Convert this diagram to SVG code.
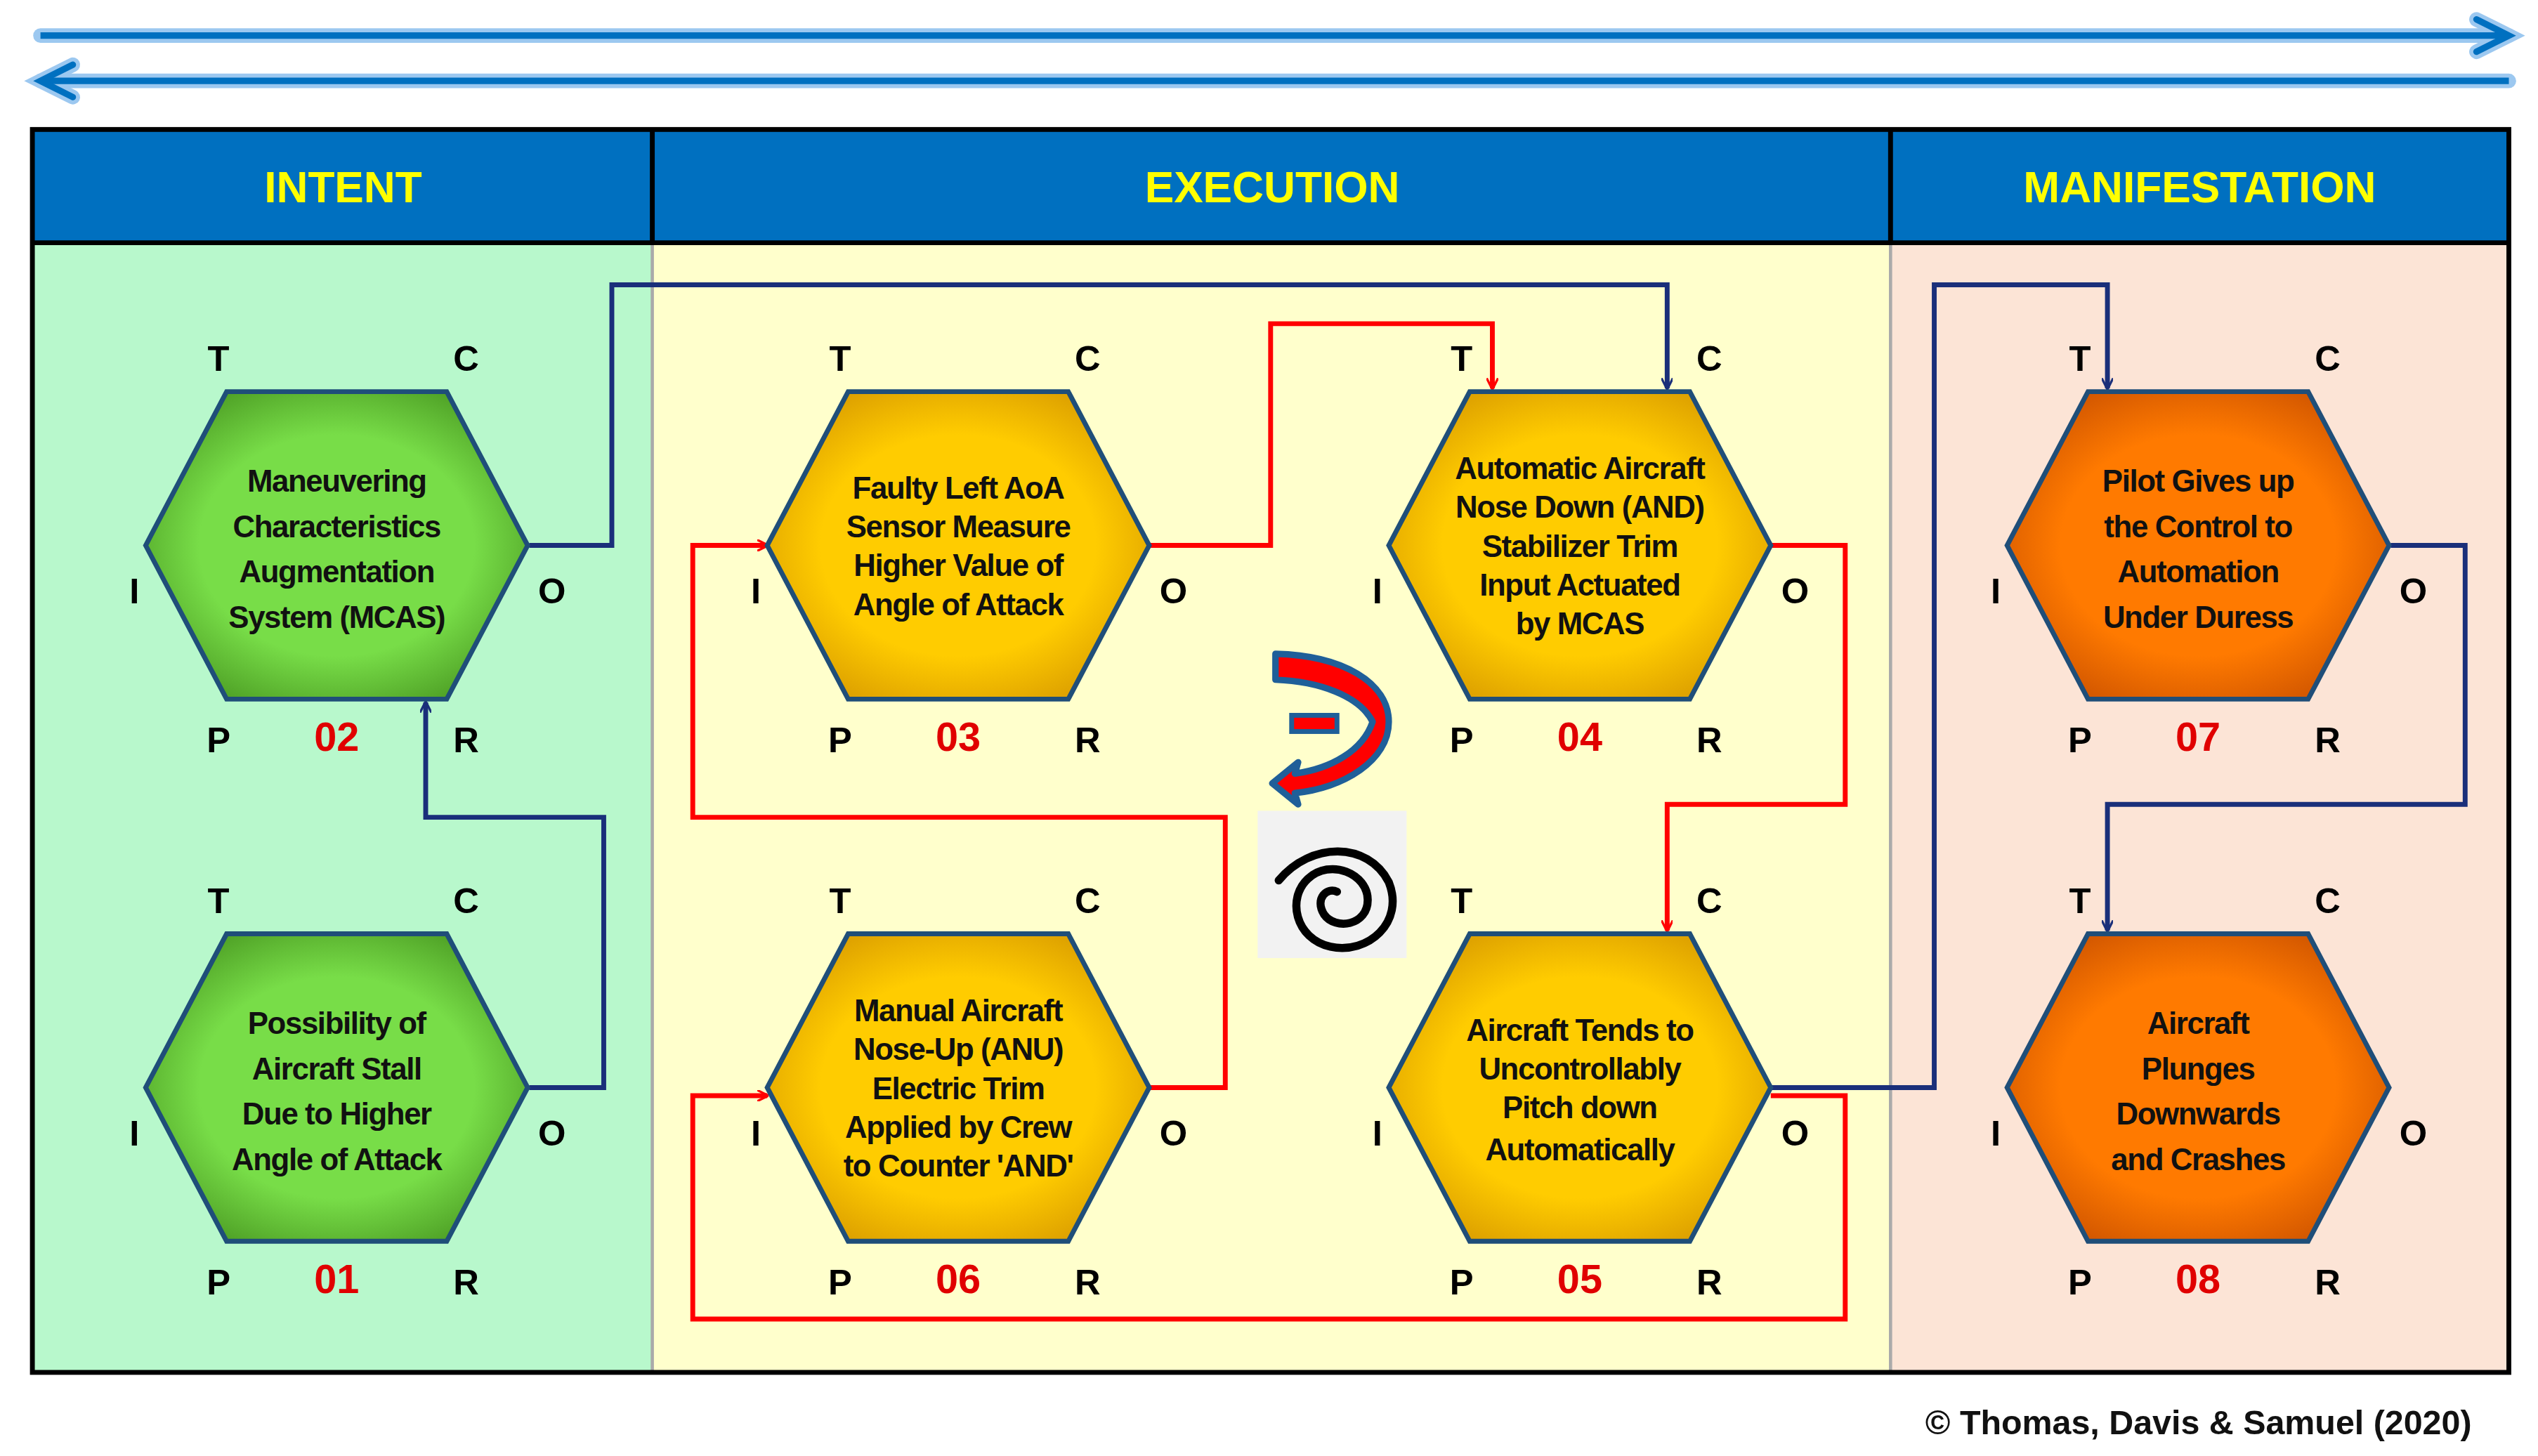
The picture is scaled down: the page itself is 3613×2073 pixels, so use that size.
<svg xmlns="http://www.w3.org/2000/svg" width="3613" height="2073" viewBox="0 0 3613 2073">
<defs>
<style>
.lb{font-family:"Liberation Sans",Arial,sans-serif;font-weight:bold;font-size:22px;fill:#000;text-anchor:middle}
.num{font-family:"Liberation Sans",Arial,sans-serif;font-weight:bold;font-size:25px;fill:#e00000;text-anchor:middle}
.nt{font-family:"Liberation Sans",Arial,sans-serif;font-weight:bold;font-size:19px;fill:#111;text-anchor:middle;letter-spacing:-0.6px}
.hd{font-family:"Liberation Sans",Arial,sans-serif;font-weight:bold;font-size:27px;fill:#ffff00;text-anchor:middle}
.hex{stroke:#1f4e79;stroke-width:3}
.bl{fill:none;stroke:#1a2f7a;stroke-width:3}
.rd{fill:none;stroke:#ff0000;stroke-width:3}
</style>
<radialGradient id="gG" cx="50%" cy="50%" r="60%"><stop offset="0.6" stop-color="#78dd48"/><stop offset="1" stop-color="#4a9a22"/></radialGradient>
<radialGradient id="gY" cx="50%" cy="50%" r="60%"><stop offset="0.6" stop-color="#ffcc00"/><stop offset="1" stop-color="#d89a00"/></radialGradient>
<radialGradient id="gO" cx="50%" cy="50%" r="60%"><stop offset="0.6" stop-color="#ff7a00"/><stop offset="1" stop-color="#cc5200"/></radialGradient>
<marker id="ab" viewBox="0 0 10 10" refX="9" refY="5" markerWidth="7" markerHeight="7" orient="auto" markerUnits="userSpaceOnUse"><path d="M0,0 L10,5 L0,10" fill="none" stroke="#1a2f7a" stroke-width="2"/></marker>
<marker id="ar" viewBox="0 0 10 10" refX="9" refY="5" markerWidth="7" markerHeight="7" orient="auto" markerUnits="userSpaceOnUse"><path d="M0,0 L10,5 L0,10" fill="none" stroke="#ff0000" stroke-width="2"/></marker>
<path id="hx" d="M-118,0 L-68,-95 L68,-95 L118,0 L68,95 L-68,95 Z"/>
</defs>
<rect width="3613" height="2073" fill="#fff"/>
<g transform="scale(2.3042)">
<g id="timeline">
<line x1="25" y1="22" x2="1550" y2="22" stroke="#9cc8f0" stroke-width="9" stroke-linecap="round"/>
<line x1="25" y1="50" x2="1550" y2="50" stroke="#9cc8f0" stroke-width="9" stroke-linecap="round"/>
<path d="M1530,12 L1550,22 L1530,32" fill="none" stroke="#9cc8f0" stroke-width="9" stroke-linecap="round"/>
<path d="M45,40 L25,50 L45,60" fill="none" stroke="#9cc8f0" stroke-width="9" stroke-linecap="round"/>
<line x1="25" y1="22" x2="1550" y2="22" stroke="#0070c0" stroke-width="4"/>
<line x1="25" y1="50" x2="1550" y2="50" stroke="#0070c0" stroke-width="4"/>
<path d="M1530,12 L1550,22 L1530,32" fill="none" stroke="#0070c0" stroke-width="4" stroke-linecap="round"/>
<path d="M45,40 L25,50 L45,60" fill="none" stroke="#0070c0" stroke-width="4" stroke-linecap="round"/>
</g>
<g id="frame">
<rect x="20" y="150" width="383" height="698" fill="#b8f8cc"/>
<rect x="403" y="150" width="765" height="698" fill="#ffffcc"/>
<rect x="1168" y="150" width="382" height="698" fill="#fce4d6"/>
<rect x="20" y="80" width="1530" height="70" fill="#0070c0"/>
<line x1="403" y1="150" x2="403" y2="848" stroke="#aaa" stroke-width="2"/>
<line x1="1168" y1="150" x2="1168" y2="848" stroke="#aaa" stroke-width="2"/>
<line x1="403" y1="80" x2="403" y2="150" stroke="#000" stroke-width="3"/>
<line x1="1168" y1="80" x2="1168" y2="150" stroke="#000" stroke-width="3"/>
<line x1="20" y1="150" x2="1550" y2="150" stroke="#000" stroke-width="3"/>
<rect x="20" y="80" width="1530" height="768" fill="none" stroke="#000" stroke-width="3"/>
<text class="hd" x="212" y="125">INTENT</text>
<text class="hd" x="786" y="125">EXECUTION</text>
<text class="hd" x="1359" y="125">MANIFESTATION</text>
</g>
<g id="connectors">
<path class="bl" d="M327,672 H373 V505 H263 V434" marker-end="url(#ab)"/>
<path class="bl" d="M327,337 H378 V176 H1030 V240" marker-end="url(#ab)"/>
<path class="rd" d="M710,337 H785 V200 H922 V240" marker-end="url(#ar)"/>
<path class="rd" d="M1094,337 H1140 V497 H1030 V575" marker-end="url(#ar)"/>
<path class="rd" d="M710,672 H757 V505 H428 V337 H474" marker-end="url(#ar)"/>
<path class="rd" d="M1094,677 H1140 V815 H428 V677 H474" marker-end="url(#ar)"/>
<path class="bl" d="M1094,672 H1195 V176 H1302 V240" marker-end="url(#ab)"/>
<path class="bl" d="M1477,337 H1523 V497 H1302 V575" marker-end="url(#ab)"/>
</g>
<g id="n02" transform="translate(208,337)">
<use href="#hx" class="hex" fill="url(#gG)"/>
<text class="nt" y="-33">Maneuvering</text><text class="nt" y="-5">Characteristics</text><text class="nt" y="23">Augmentation</text><text class="nt" y="51">System (MCAS)</text>
<text class="lb" x="-73" y="-108">T</text><text class="lb" x="80" y="-108">C</text><text class="lb" x="-125" y="36">I</text><text class="lb" x="133" y="36">O</text><text class="lb" x="-73" y="128">P</text><text class="num" y="127">02</text><text class="lb" x="80" y="128">R</text>
</g>
<g id="n01" transform="translate(208,672)">
<use href="#hx" class="hex" fill="url(#gG)"/>
<text class="nt" y="-33">Possibility of</text><text class="nt" y="-5">Aircraft Stall</text><text class="nt" y="23">Due to Higher</text><text class="nt" y="51">Angle of Attack</text>
<text class="lb" x="-73" y="-108">T</text><text class="lb" x="80" y="-108">C</text><text class="lb" x="-125" y="36">I</text><text class="lb" x="133" y="36">O</text><text class="lb" x="-73" y="128">P</text><text class="num" y="127">01</text><text class="lb" x="80" y="128">R</text>
</g>
<g id="n03" transform="translate(592,337)">
<use href="#hx" class="hex" fill="url(#gY)"/>
<text class="nt" y="-29">Faulty Left  AoA</text><text class="nt" y="-5">Sensor Measure</text><text class="nt" y="19">Higher Value of</text><text class="nt" y="43">Angle of Attack</text>
<text class="lb" x="-73" y="-108">T</text><text class="lb" x="80" y="-108">C</text><text class="lb" x="-125" y="36">I</text><text class="lb" x="133" y="36">O</text><text class="lb" x="-73" y="128">P</text><text class="num" y="127">03</text><text class="lb" x="80" y="128">R</text>
</g>
<g id="n04" transform="translate(976,337)">
<use href="#hx" class="hex" fill="url(#gY)"/>
<text class="nt" y="-41">Automatic Aircraft</text><text class="nt" y="-17">Nose Down (AND)</text><text class="nt" y="7">Stabilizer Trim</text><text class="nt" y="31">Input Actuated</text><text class="nt" y="55">by MCAS</text>
<text class="lb" x="-73" y="-108">T</text><text class="lb" x="80" y="-108">C</text><text class="lb" x="-125" y="36">I</text><text class="lb" x="133" y="36">O</text><text class="lb" x="-73" y="128">P</text><text class="num" y="127">04</text><text class="lb" x="80" y="128">R</text>
</g>
<g id="n06" transform="translate(592,672)">
<use href="#hx" class="hex" fill="url(#gY)"/>
<text class="nt" y="-41">Manual Aircraft</text><text class="nt" y="-17">Nose-Up (ANU)</text><text class="nt" y="7">Electric Trim</text><text class="nt" y="31">Applied by Crew</text><text class="nt" y="55">to Counter 'AND'</text>
<text class="lb" x="-73" y="-108">T</text><text class="lb" x="80" y="-108">C</text><text class="lb" x="-125" y="36">I</text><text class="lb" x="133" y="36">O</text><text class="lb" x="-73" y="128">P</text><text class="num" y="127">06</text><text class="lb" x="80" y="128">R</text>
</g>
<g id="n05" transform="translate(976,672)">
<use href="#hx" class="hex" fill="url(#gY)"/>
<text class="nt" y="-29">Aircraft Tends to</text><text class="nt" y="-5">Uncontrollably</text><text class="nt" y="19">Pitch down</text><text class="nt" y="45">Automatically</text>
<text class="lb" x="-73" y="-108">T</text><text class="lb" x="80" y="-108">C</text><text class="lb" x="-125" y="36">I</text><text class="lb" x="133" y="36">O</text><text class="lb" x="-73" y="128">P</text><text class="num" y="127">05</text><text class="lb" x="80" y="128">R</text>
</g>
<g id="n07" transform="translate(1358,337)">
<use href="#hx" class="hex" fill="url(#gO)"/>
<text class="nt" y="-33">Pilot Gives up</text><text class="nt" y="-5">the Control to</text><text class="nt" y="23">Automation</text><text class="nt" y="51">Under Duress</text>
<text class="lb" x="-73" y="-108">T</text><text class="lb" x="80" y="-108">C</text><text class="lb" x="-125" y="36">I</text><text class="lb" x="133" y="36">O</text><text class="lb" x="-73" y="128">P</text><text class="num" y="127">07</text><text class="lb" x="80" y="128">R</text>
</g>
<g id="n08" transform="translate(1358,672)">
<use href="#hx" class="hex" fill="url(#gO)"/>
<text class="nt" y="-33">Aircraft</text><text class="nt" y="-5">Plunges</text><text class="nt" y="23">Downwards</text><text class="nt" y="51">and Crashes</text>
<text class="lb" x="-73" y="-108">T</text><text class="lb" x="80" y="-108">C</text><text class="lb" x="-125" y="36">I</text><text class="lb" x="133" y="36">O</text><text class="lb" x="-73" y="128">P</text><text class="num" y="127">08</text><text class="lb" x="80" y="128">R</text>
</g>
<g id="icons">
<path d="M788,404 L788,420 C815,421 840,430 848,446 C842,464 822,475 800,478 L802,471 L786,484 L802,497 L800,490 C830,487 858,470 858,446 C858,422 830,405 788,404 Z" fill="#ff0000" stroke="#1f5f99" stroke-width="4" stroke-linejoin="round"/>
<rect x="798" y="442" width="28" height="10" fill="#ff0000" stroke="#1f5f99" stroke-width="3"/>
<rect x="777" y="501" width="92" height="91" fill="#f2f2f2"/>
<path d="M790,544 C810,520 845,520 858,545 C868,570 845,590 822,585 C800,580 795,555 808,543 C822,530 845,540 845,556 C845,572 825,575 818,565 C812,555 820,548 826,551" fill="none" stroke="#000" stroke-width="5" stroke-linecap="round"/>
</g>
<text x="1527" y="886" font-family="'Liberation Sans',Arial,sans-serif" font-weight="bold" font-size="21" text-anchor="end" fill="#111">© Thomas, Davis &amp; Samuel (2020)</text>
</g>
</svg>
